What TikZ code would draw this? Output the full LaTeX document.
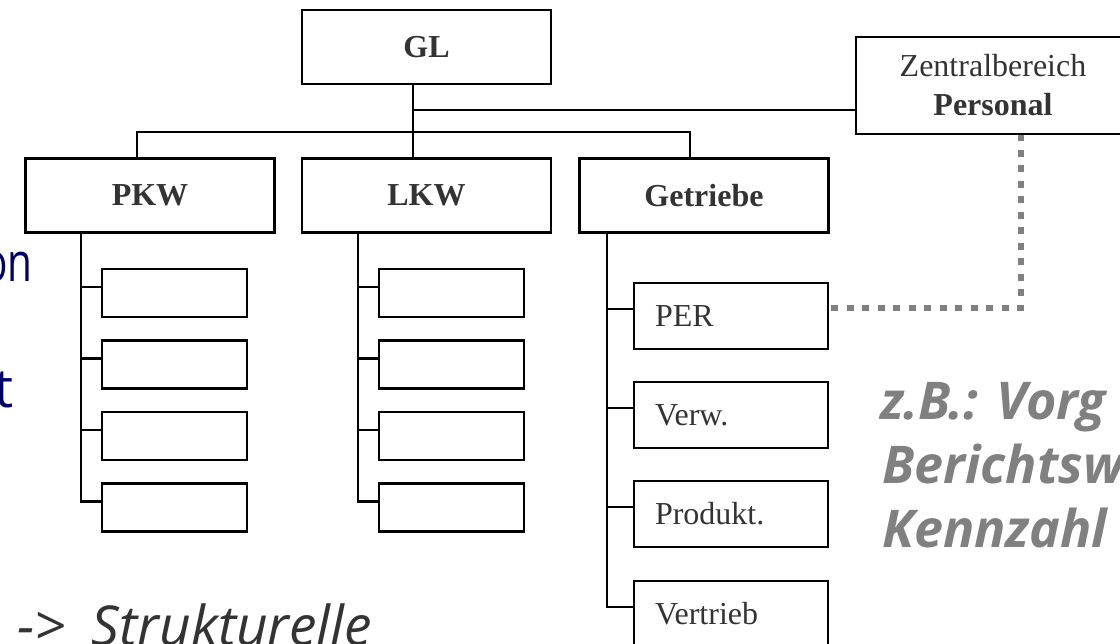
\documentclass[tikz,border=0pt]{standalone}
\usepackage{fontspec}
\setmainfont{Liberation Serif}
\newfontfamily\slidefont{Open Sans}
\definecolor{txt}{RGB}{51,51,51}
\definecolor{navy}{RGB}{0,0,102}
\definecolor{dotgray}{RGB}{128,128,128}
\begin{document}
\begin{tikzpicture}[x=1pt,y=-1pt,
  line/.style={line width=2.2pt, draw=black},
  box/.style={draw, line width=2.2pt, minimum width=249pt, minimum height=74pt, inner sep=0pt,
    font=\fontsize{32}{39}\selectfont\bfseries, text=txt},
  zbox/.style={draw, line width=2.2pt, minimum width=274pt, minimum height=97pt, inner sep=0pt,
    align=center, font=\fontsize{32}{39}\selectfont, text=txt},
  sbox/.style={draw, line width=2.2pt, minimum width=145pt, minimum height=48pt, inner sep=0pt},
  gbox/.style={draw, line width=2.2pt, text width=152pt, inner xsep=21pt, inner ysep=0pt,
    minimum height=66pt, align=left, font=\fontsize{32}{39}\selectfont, text=txt},
  dotline/.style={line width=6pt, draw=dotgray, dash pattern=on 7pt off 8.5pt},
  slide/.style={inner sep=0pt, font=\slidefont\fontsize{54}{60}\selectfont},
  note/.style={inner sep=0pt, anchor=base west, text=dotgray, font=\slidefont\bfseries\itshape\fontsize{52}{63}\selectfont}
]
\useasboundingbox (0,0) rectangle (1120,644);

% main boxes
\node[box] (gl) at (426.5,47) {GL};
\node[box] (pkw) at (150,195.5) {PKW};
\node[box] (lkw) at (426.5,195.5) {LKW};
\node[box] (getr) at (704,195.5) {Getriebe};
\node[zbox] (zb) at (993,85.5) {\raisebox{-3pt}{Zentralbereich}\\\raisebox{-3pt}{\textbf{Personal}}};

% PKW sub boxes
\node[sbox] (p1) at (174.5,293) {};
\node[sbox] (p2) at (174.5,364.5) {};
\node[sbox] (p3) at (174.5,436) {};
\node[sbox] (p4) at (174.5,507.5) {};
% LKW sub boxes
\node[sbox] (l1) at (451.5,293) {};
\node[sbox] (l2) at (451.5,364.5) {};
\node[sbox] (l3) at (451.5,436) {};
\node[sbox] (l4) at (451.5,507.5) {};
% Getriebe sub boxes
\node[gbox] (g1) at (731,316) {PER};
\node[gbox] (g2) at (731,415) {Verw.};
\node[gbox] (g3) at (731,514) {Produkt.};
\node[gbox] (g4) at (731,614) {Vertrieb};

% top connectors
\draw[line] ([xshift=-13.5pt]gl.south) -- ([xshift=-13.5pt]lkw.north);
\path ([xshift=-13.5pt]gl.south) ++(0,25) coordinate (j1);
\draw[line] (j1) -- (j1 -| zb.west);
\draw[line] ([xshift=-13pt]pkw.north) -- ++(0,-25) -| ([xshift=-14pt]getr.north);

% PKW subtree
\draw[line] ([xshift=-69pt]pkw.south) |- ([yshift=6pt]p4.west);
\foreach \n in {p1,p2,p3} \draw[line] ([yshift=6pt]\n.west) -- ++(-21,0);
% LKW subtree
\draw[line] ([xshift=-68.5pt]lkw.south) |- ([yshift=6pt]l4.west);
\foreach \n in {l1,l2,l3} \draw[line] ([yshift=6pt]\n.west) -- ++(-21,0);
% Getriebe subtree
\draw[line] ([xshift=-97pt]getr.south) |- ([yshift=7pt]g4.west);
\foreach \n in {g1,g2,g3} \draw[line] ([yshift=7pt]\n.west) -- ++(-27,0);

% dotted link
\draw[dotline] ([xshift=2pt,yshift=8pt]g1.east) -| ([xshift=28pt]zb.south);

% slide texts
\node[slide, anchor=base east, text=navy, xscale=0.75, transform shape] (on) at (33,282) {on};
\node[slide, anchor=base east, text=navy] (tt) at (14,408) {t};
\node[slide, anchor=base west, text=txt, font=\slidefont\itshape\fontsize{55}{60}\selectfont] (struk) at (17,645) {->\hspace{26pt}Strukturelle};
\node[note] (n1) at (880,420) {z.B.: Vorg};
\node[note] (n2) at (882,483) {Berichtsw};
\node[note] (n3) at (882,547) {Kennzahl};
\end{tikzpicture}
\end{document}
